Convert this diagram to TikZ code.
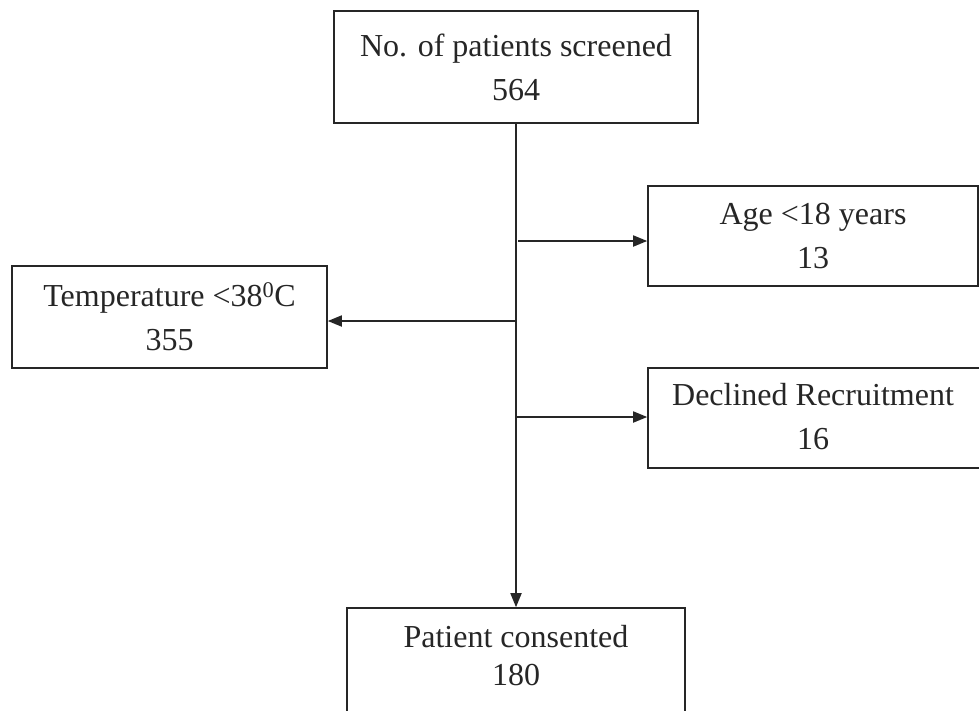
\documentclass[tikz,border=0pt]{standalone}
\usepackage{fontspec}
\setmainfont{Liberation Serif}
\usetikzlibrary{arrows.meta}
\tikzset{
  box/.style={draw=black!85, line width=1.6pt, rectangle, inner sep=0pt, align=center,
    font=\fontsize{32}{44}\selectfont, text=black!85},
  conn/.style={draw=black!85, line width=1.8pt},
  arr/.style={conn, -{Triangle[length=14pt,width=11pt]}}
}
\begin{document}
\begin{tikzpicture}[x=1pt,y=-1pt]
\clip (0,0) rectangle (979,710);
\fill[white] (0,0) rectangle (979,710);
% boxes
\node[box, minimum width=364pt, minimum height=112pt] (top) at (516,67) {No. of patients screened\\564};
\node[box, minimum width=330pt, minimum height=100pt] (age) at (813,236) {Age \textless18 years\\13};
\node[box, minimum width=315pt, minimum height=102pt] (temp) at (169.5,317) {Temperature \textless38\textsuperscript{0}C\\355};
\node[box, minimum width=340pt, minimum height=100pt] (decl) at (818,418) {};
\node[box, draw=none] (decltxt) at (813,417) {Declined Recruitment\\16};
\node[box, minimum width=338pt, minimum height=130pt] (cons) at (516,673) {};
\node[box, draw=none, font=\fontsize{32}{38}\selectfont] (constxt) at (516,656) {Patient consented\\180};
% trunk
\draw[arr] (top.south) -- (cons.north);
\coordinate (ja) at (518,241);
\coordinate (jt) at (516,321);
\coordinate (jd) at (516,417);
\draw[arr] (ja) -- (ja -| age.west);
\draw[arr] (jt) -- (jt -| temp.east);
\draw[arr] (jd) -- (jd -| decl.west);
\end{tikzpicture}
\end{document}
